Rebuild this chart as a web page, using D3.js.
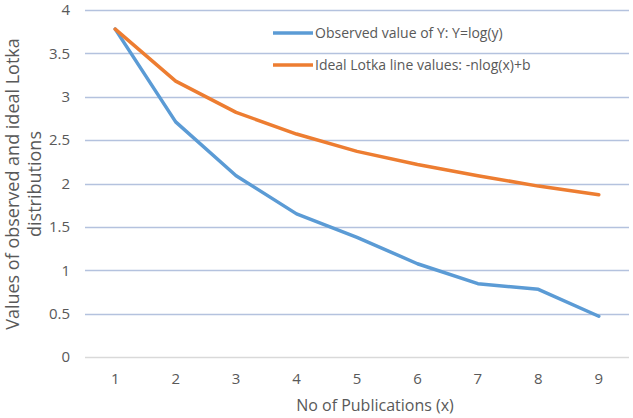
<!DOCTYPE html>
<html>
<head>
<meta charset="utf-8">
<title>Lotka</title>
<style>
  body { margin: 0; background: #fff; }
  text { font-family: "Open Sans", "Liberation Sans", sans-serif; fill: #595959; }
</style>
</head>
<body>
<script src="https://d3js.org/d3.v7.min.js"></script>
<script>
// data
var categories = ["1", "2", "3", "4", "5", "6", "7", "8", "9"];
var observed = [3.78, 2.71, 2.09, 1.65, 1.38, 1.075, 0.845, 0.78, 0.47];
var ideal = [3.78, 3.18, 2.82, 2.57, 2.37, 2.22, 2.09, 1.97, 1.87];
var yTicks = [0, 0.5, 1, 1.5, 2, 2.5, 3, 3.5, 4];
var seriesNames = ["Observed value of Y: Y=log(y)", "Ideal Lotka line values: -nlog(x)+b"];
var colors = ["#5B9BD5", "#ED7D31"];

var width = 633, height = 418;
var margin = {left: 85, right: 4, top: 10, bottom: 61};

var svg = d3.select("body").append("svg")
    .attr("width", width)
    .attr("height", height);

var x = d3.scaleBand()
    .domain(categories)
    .range([margin.left, width - margin.right]);

var y = d3.scaleLinear()
    .domain([0, 4])
    .range([height - margin.bottom, margin.top]);

// grid lines
svg.append("g")
    .selectAll("line")
    .data(yTicks)
    .enter()
    .append("line")
    .attr("x1", margin.left)
    .attr("x2", width - margin.right)
    .attr("y1", function(d) { return Math.round(y(d)) + 0.5; })
    .attr("y2", function(d) { return Math.round(y(d)) + 0.5; })
    .attr("stroke", function(d) { return d === 0 ? "#D9D9D9" : "#B4C2DE"; })
    .attr("stroke-width", 1.5);

// y tick labels
svg.append("g")
    .selectAll("text")
    .data(yTicks)
    .enter()
    .append("text")
    .attr("x", 70)
    .attr("y", function(d) { return y(d); })
    .attr("dy", "0.35em")
    .attr("text-anchor", "end")
    .style("font-size", "15px")
    .text(function(d) { return d; });

// x tick labels
svg.append("g")
    .selectAll("text")
    .data(categories)
    .enter()
    .append("text")
    .attr("x", function(d) { return x(d) + x.bandwidth() / 2; })
    .attr("y", 379)
    .attr("dy", "0.35em")
    .attr("text-anchor", "middle")
    .style("font-size", "15px")
    .text(function(d) { return d; });

// axis titles
svg.append("text")
    .attr("x", (margin.left + width - margin.right) / 2 + 18)
    .attr("y", 405)
    .attr("dy", "0.35em")
    .attr("text-anchor", "middle")
    .style("font-size", "16px")
    .text("No of Publications (x)");

var yTitle = svg.append("text")
    .attr("transform", "translate(0,184) rotate(-90)")
    .attr("text-anchor", "middle")
    .style("font-size", "18px");
yTitle.append("tspan").attr("x", 0).attr("y", 19).text("Values of observed and ideal Lotka");
yTitle.append("tspan").attr("x", 0).attr("y", 41).text("distributions");

// lines
var line = d3.line()
    .x(function(d, i) { return x(categories[i]) + x.bandwidth() / 2; })
    .y(function(d) { return y(d); });

svg.append("g")
    .selectAll("path")
    .data([observed, ideal])
    .enter()
    .append("path")
    .attr("fill", "none")
    .attr("stroke", function(d, i) { return colors[i]; })
    .attr("stroke-width", 3.5)
    .attr("stroke-linejoin", "round")
    .attr("stroke-linecap", "round")
    .attr("d", line);

// legend
var legend = svg.append("g")
    .selectAll("g")
    .data(seriesNames)
    .enter()
    .append("g")
    .attr("transform", function(d, i) { return "translate(273," + (33 + i * 32) + ")"; });

legend.append("line")
    .attr("x1", 0)
    .attr("x2", 40)
    .attr("stroke", function(d, i) { return colors[i]; })
    .attr("stroke-width", 3.5);

legend.append("text")
    .attr("x", 42)
    .attr("dy", "0.35em")
    .style("font-size", "14px")
    .text(function(d) { return d; });
</script>
</body>
</html>
